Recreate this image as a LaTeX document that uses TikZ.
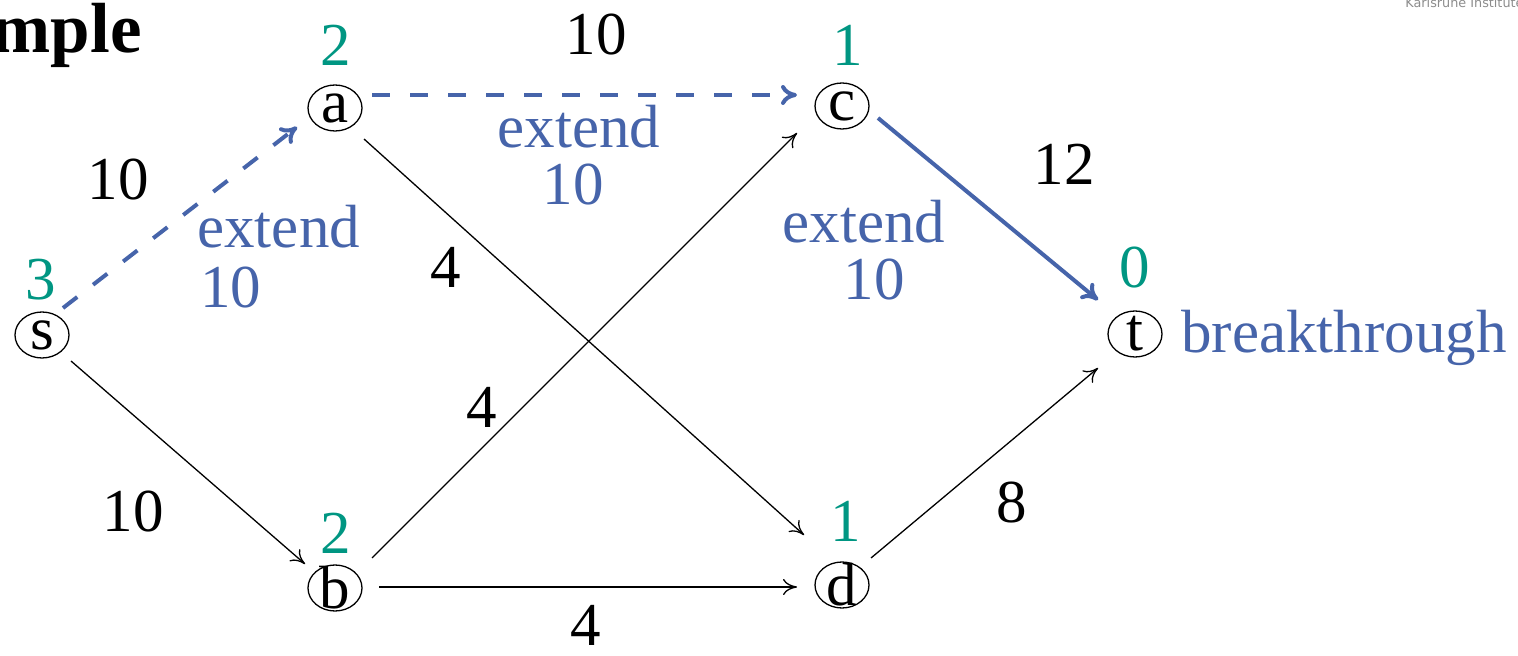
\documentclass[tikz,border=0pt]{standalone}
\usepackage{fontspec}
\setmainfont{Liberation Serif}
\newfontfamily\kitsans{DejaVu Sans}
\usetikzlibrary{arrows.meta,shapes.geometric,calc}
\definecolor{kitgreen}{RGB}{0,150,130}
\definecolor{kitblue}{RGB}{70,100,170}
\definecolor{kitgray}{RGB}{140,140,140}
\begin{document}
\begin{tikzpicture}[x=0.5pt,y=-0.5pt,
  vtx/.style={draw,ellipse,line width=0.65pt,minimum width=27pt,minimum height=23pt,
    inner xsep=0pt,inner ysep=-8pt,font=\fontsize{30.5pt}{30.5pt}\selectfont},
  lbl/.style={anchor=base,inner sep=0pt,font=\fontsize{30.5pt}{30.5pt}\selectfont},
  dist/.style={lbl,text=kitgreen},
  ext/.style={lbl,text=kitblue},
  plain/.style={line width=0.65pt,-{To[length=7pt,width=8pt]}},
  blueline/.style={line width=2pt,draw=kitblue,-{To[length=8pt,width=10pt]}},
  bluedash/.style={blueline,dash pattern=on 9pt off 10pt},
]
\useasboundingbox (0,0) rectangle (1518,656);

% header texts
\node[anchor=base east,inner sep=0pt,font=\fontsize{35.5pt}{35.5pt}\selectfont\bfseries] (title) at (142,53) {Example};
\node[anchor=base west,inner sep=0pt,font=\kitsans\fontsize{6.4pt}{6.4pt}\selectfont,text=kitgray] (kit) at (1405,8) {Karlsruhe Institute of Technology};

% vertices
\node[vtx] (s) at (42,335) {s};
\node[vtx] (a) at (335,108) {a};
\node[vtx] (c) at (842,106) {c};
\node[vtx] (t) at (1135,334) {t};
\node[vtx] (b) at (335,588) {b};
\node[vtx] (d) at (842,585) {d};

% edges
\draw[bluedash] ($(s)+(21,-27)$) -- ($(a)+(-38,19)$);
\draw[bluedash] ($(a)+(37,-13)$) -- ($(c)+(-45,-11)$);
\draw[blueline] ($(c)+(36,12)$) -- ($(t)+(-37,-34)$);
\draw[plain] ($(a)+(29,31)$) -- ($(d)+(-38,-50)$);
\draw[plain] ($(s)+(29,26)$) -- ($(b)+(-30,-24)$);
\draw[plain] ($(b)+(37,-30)$) -- ($(c)+(-45,27)$);
\draw[plain] ($(b)+(44,-1)$) -- ($(d)+(-45,2)$);
\draw[plain] ($(d)+(29,-27)$) -- ($(t)+(-37,34)$);

% capacities
\node[lbl] (cac) at (596,55) {10};
\node[lbl] (csa) at (118,200) {10};
\node[lbl] (csb) at (133,531) {10};
\node[lbl] (cad) at (446,288) {4};
\node[lbl] (cbc) at (482,428) {4};
\node[lbl] (cbd) at (586,645) {4};
\node[lbl] (cct) at (1064,185) {12};
\node[lbl] (cdt) at (1012,523) {8};

% distance labels
\node[dist] (ds) at (41,300) {3};
\node[dist] (da) at (336,66) {2};
\node[dist] (dc) at (848,66) {1};
\node[dist] (dt) at (1135,288) {0};
\node[dist] (db) at (336,553) {2};
\node[dist] (dd) at (846,541) {1};

% extend labels
\node[ext,anchor=base west] (e1a) at (197,248) {extend};
\node[ext,anchor=base west] (e1b) at (200,308) {10};
\node[ext] (e2a) at (579,148) {extend};
\node[ext] (e2b) at (573,205) {10};
\node[ext] (e3a) at (864,243) {extend};
\node[ext] (e3b) at (874,300) {10};
\node[ext,anchor=base west] (bt) at (1181,353) {breakthrough};
\end{tikzpicture}
\end{document}
